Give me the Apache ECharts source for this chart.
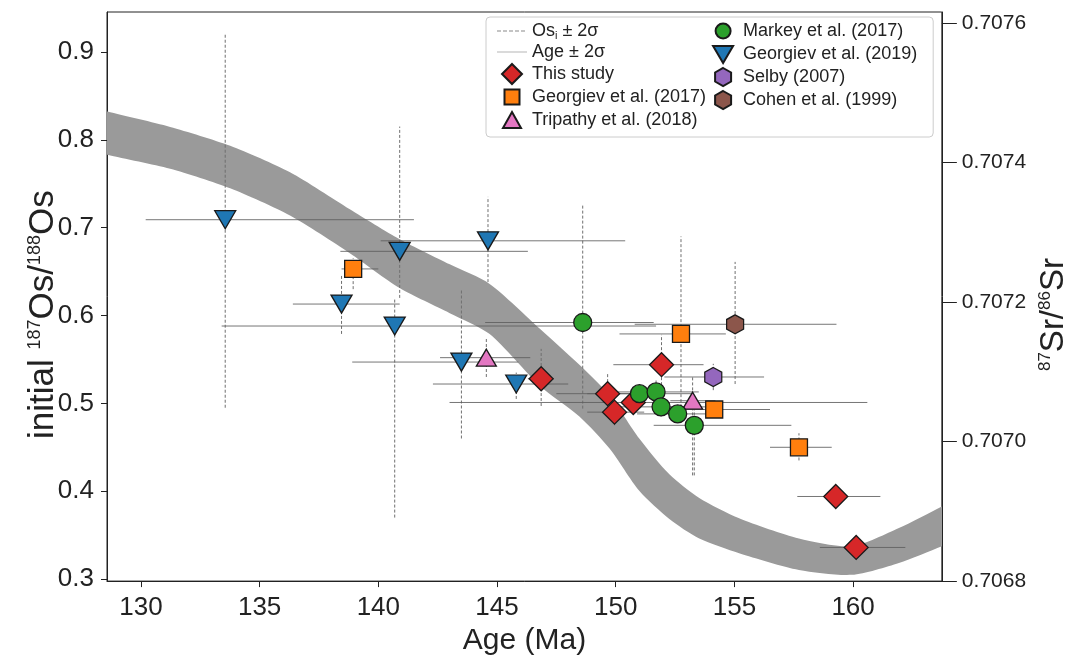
<!DOCTYPE html>
<html>
<head>
<meta charset="utf-8">
<script src="https://cdn.jsdelivr.net/npm/echarts@6/dist/echarts.min.js"></script>
<style>
  html, body { margin: 0; padding: 0; background: #fff; }
  #chart { width: 1078px; height: 661px; }
</style>
</head>
<body>
<div id="chart"></div>
<script>
// Axis ticks
const ageTicks = [130, 135, 140, 145, 150, 155, 160];
const osTicks = [0.3, 0.4, 0.5, 0.6, 0.7, 0.8, 0.9];
const srTicks = [0.7068, 0.7070, 0.7072, 0.7074, 0.7076];

// Seawater 87Sr/86Sr envelope (age in Ma, upper and lower bound)
const bandAge    = [127.8, 128.58, 131.23, 133.76, 136.28, 138.80, 140.90, 143.01, 144.69, 146.83, 148.47, 149.74, 151.00, 152.26, 153.52, 155.20, 157.72, 159.95, 161.93, 163.74, 164.5];
const bandSrHigh = [0.70748, 0.707473, 0.707451, 0.707424, 0.707386, 0.707333, 0.707290, 0.707254, 0.707226, 0.707161, 0.707110, 0.707066, 0.707004, 0.706953, 0.706919, 0.706890, 0.706861, 0.706850, 0.706876, 0.706907, 0.70692];
const bandSrLow  = [0.70742, 0.707411, 0.707391, 0.707363, 0.707324, 0.707270, 0.707220, 0.707184, 0.707154, 0.707079, 0.707036, 0.706990, 0.706929, 0.706889, 0.706861, 0.706840, 0.706816, 0.706809, 0.706826, 0.706850, 0.70686];

// This study
const thisStudyAge = [146.86, 149.66, 149.95, 150.74, 151.93, 159.27, 160.13];
const thisStudyOs = [0.528, 0.511, 0.490, 0.501, 0.544, 0.394, 0.336];
const thisStudyAgeErr = [[146.3, 147.4], [147.5, 152.0], [148.8, 151.2], [143.0, 160.6], [149.9, 153.7], [157.65, 161.15], [158.6, 162.2]];
const thisStudyOsErr = [[0.497, 0.562], [0.490, 0.535], [0.475, 0.505], [0.490, 0.512], [0.515, 0.578], [0.385, 0.403], [0.328, 0.344]];

// Georgiev et al. (2017)
const georgiev17Age = [138.94, 152.75, 154.15, 157.72];
const georgiev17Os = [0.653, 0.579, 0.493, 0.450];
const georgiev17AgeErr = [[138.45, 140.0], [150.16, 154.64], [152.9, 156.5], [156.5, 159.1]];
const georgiev17OsErr = [[0.630, 0.665], [0.490, 0.690], [0.485, 0.500], [0.435, 0.466]];

// Tripathy et al. (2018)
const tripathyAge = [144.55, 153.24];
const tripathyOs = [0.552, 0.503];
const tripathyAgeErr = [[142.6, 146.4], [152.3, 154.2]];
const tripathyOsErr = [[0.530, 0.575], [0.418, 0.530]];

// Markey et al. (2017)
const markeyAge = [148.61, 151.0, 151.7, 151.91, 152.61, 153.31];
const markeyOs = [0.592, 0.511, 0.513, 0.496, 0.488, 0.475];
const markeyAgeErr = [[144.5, 151.6], [148.8, 153.2], [149.9, 153.5], [150.0, 153.8], [150.9, 154.3], [151.6, 157.4]];
const markeyOsErr = [[0.494, 0.726], [0.500, 0.522], [0.500, 0.526], [0.485, 0.507], [0.478, 0.498], [0.418, 0.500]];

// Georgiev et al. (2019)
const georgiev19Age = [133.55, 138.45, 140.69, 140.90, 143.50, 144.62, 145.81];
const georgiev19Os = [0.709, 0.613, 0.588, 0.673, 0.547, 0.685, 0.522];
const georgiev19AgeErr = [[130.2, 141.5], [136.4, 140.9], [133.4, 151.7], [138.4, 146.3], [138.9, 145.9], [140.1, 150.4], [142.3, 148.0]];
const georgiev19OsErr = [[0.495, 0.920], [0.579, 0.645], [0.370, 0.620], [0.620, 0.815], [0.460, 0.630], [0.638, 0.735], [0.505, 0.535]];

// Selby (2007)
const selbyAge = [154.11];
const selbyOs = [0.530];
const selbyAgeErr = [[152.05, 156.25]];
const selbyOsErr = [[0.515, 0.545]];

// Cohen et al. (1999)
const cohenAge = [155.03];
const cohenOs = [0.590];
const cohenAgeErr = [[150.8, 159.3]];
const cohenOsErr = [[0.522, 0.661]];

const FONT = 'Liberation Sans';
const DOWN_TRI = 'path://M0,0L20,0L10,17Z';
const HEXAGON = 'path://M8.66,0L17.32,5L17.32,15L8.66,20L0,15L0,5Z';

// Legend icons share a fixed 30x20 frame (the two zero-length moves pin the frame corners)
const FRAME = 'M0,0L0,0M30,20L30,20';
const ICON = {
  diamond: 'path://' + FRAME + 'M15,0L25,10L15,20L5,10Z',
  square: 'path://' + FRAME + 'M7.5,2.5h15v15h-15z',
  triUp: 'path://' + FRAME + 'M15,2L24,18L6,18Z',
  circle: 'path://' + FRAME + 'M7.5,10a7.5,7.5 0 1,0 15,0a7.5,7.5 0 1,0 -15,0Z',
  triDown: 'path://' + FRAME + 'M5,2L25,2L15,19Z',
  hexagon: 'path://' + FRAME + 'M15,1L23,5.5L23,14.5L15,19L7,14.5L7,5.5Z',
  dashed: 'path://' + FRAME + 'M0,9.5h4v1h-4zM6,9.5h4v1h-4zM12,9.5h4v1h-4zM18,9.5h4v1h-4zM24,9.5h4v1h-4z',
  solid: 'path://' + FRAME + 'M0,9.5h30v1h-30z'
};

const studies = [
  { name: 'This study', age: thisStudyAge, os: thisStudyOs, ageErr: thisStudyAgeErr, osErr: thisStudyOsErr, symbol: 'diamond', size: [24, 24], color: '#d62728', icon: ICON.diamond },
  { name: 'Georgiev et al. (2017)', age: georgiev17Age, os: georgiev17Os, ageErr: georgiev17AgeErr, osErr: georgiev17OsErr, symbol: 'rect', size: [17, 17], color: '#ff7f0e', icon: ICON.square },
  { name: 'Tripathy et al. (2018)', age: tripathyAge, os: tripathyOs, ageErr: tripathyAgeErr, osErr: tripathyOsErr, symbol: 'triangle', size: [20, 17], color: '#e377c2', icon: ICON.triUp },
  { name: 'Markey et al. (2017)', age: markeyAge, os: markeyOs, ageErr: markeyAgeErr, osErr: markeyOsErr, symbol: 'circle', size: [18, 18], color: '#2ca02c', icon: ICON.circle },
  { name: 'Georgiev et al. (2019)', age: georgiev19Age, os: georgiev19Os, ageErr: georgiev19AgeErr, osErr: georgiev19OsErr, symbol: DOWN_TRI, size: [21, 18], color: '#1f77b4', icon: ICON.triDown },
  { name: 'Selby (2007)', age: selbyAge, os: selbyOs, ageErr: selbyAgeErr, osErr: selbyOsErr, symbol: HEXAGON, size: [17, 19], color: '#9467bd', icon: ICON.hexagon },
  { name: 'Cohen et al. (1999)', age: cohenAge, os: cohenOs, ageErr: cohenAgeErr, osErr: cohenOsErr, symbol: HEXAGON, size: [17, 19], color: '#8c564b', icon: ICON.hexagon }
];

const OS_ERR_NAME = 'Os_i ± 2σ';
const AGE_ERR_NAME = 'Age ± 2σ';

// Error-bar rows: [x, lo, hi]
const osBarData = [];
const ageBarData = [];
studies.forEach(s => {
  s.age.forEach((a, i) => {
    osBarData.push([a, s.osErr[i][0], s.osErr[i][1]]);
    ageBarData.push([s.os[i], s.ageErr[i][0], s.ageErr[i][1]]);
  });
});

const series = [];

// Sr envelope drawn as a filled polygon against the right-hand axis
series.push({
  type: 'custom',
  name: 'Sr band',
  xAxisIndex: 0,
  yAxisIndex: 1,
  clip: true,
  silent: true,
  z: 1,
  data: [[bandAge[0], bandSrLow[0]]],
  renderItem: (params, api) => {
    const pts = [];
    for (let i = 0; i < bandAge.length; i++) pts.push(api.coord([bandAge[i], bandSrHigh[i]]));
    for (let i = bandAge.length - 1; i >= 0; i--) pts.push(api.coord([bandAge[i], bandSrLow[i]]));
    return {
      type: 'polygon',
      shape: { points: pts, smooth: 0.25 },
      style: { fill: '#9a9a9a', stroke: null }
    };
  }
});

// Vertical Os_i uncertainty (dashed)
series.push({
  type: 'custom',
  name: OS_ERR_NAME,
  xAxisIndex: 0,
  yAxisIndex: 0,
  z: 2,
  silent: true,
  encode: { x: 0, y: [1, 2] },
  data: osBarData,
  renderItem: (params, api) => {
    const p1 = api.coord([api.value(0), api.value(1)]);
    const p2 = api.coord([api.value(0), api.value(2)]);
    return {
      type: 'line',
      shape: { x1: p1[0], y1: p1[1], x2: p2[0], y2: p2[1] },
      style: { stroke: '#6f6f6f', lineWidth: 1, lineDash: [3, 2] }
    };
  }
});

// Horizontal age uncertainty (solid)
series.push({
  type: 'custom',
  name: AGE_ERR_NAME,
  xAxisIndex: 0,
  yAxisIndex: 0,
  z: 2,
  silent: true,
  encode: { x: [1, 2], y: 0 },
  data: ageBarData,
  renderItem: (params, api) => {
    const p1 = api.coord([api.value(1), api.value(0)]);
    const p2 = api.coord([api.value(2), api.value(0)]);
    return {
      type: 'line',
      shape: { x1: p1[0], y1: p1[1], x2: p2[0], y2: p2[1] },
      style: { stroke: '#5e5e5e', lineWidth: 1, opacity: 0.85 }
    };
  }
});

studies.forEach(s => {
  series.push({
    type: 'scatter',
    name: s.name,
    xAxisIndex: 0,
    yAxisIndex: 0,
    z: 5,
    symbol: s.symbol,
    symbolSize: s.size,
    data: s.age.map((a, i) => [a, s.os[i]]),
    itemStyle: { color: s.color, borderColor: '#1a1a1a', borderWidth: 1.3, opacity: 1 }
  });
});

const legendData = [
  { name: OS_ERR_NAME, icon: ICON.dashed, itemStyle: { color: '#8a8a8a', borderWidth: 0 } },
  { name: AGE_ERR_NAME, icon: ICON.solid, itemStyle: { color: '#b5b5b5', borderWidth: 0 } },
  ...studies.map(s => ({ name: s.name, icon: s.icon }))
];

const chart = echarts.init(document.getElementById('chart'), null, { renderer: 'canvas' });
chart.setOption({
  animation: false,
  backgroundColor: '#ffffff',
  grid: {
    left: 107, right: 135, top: 12, bottom: 78,
    show: true, borderColor: '#222', borderWidth: 1, backgroundColor: 'transparent'
  },
  legend: {
    orient: 'vertical',
    left: 486, top: 17,
    height: 124,
    itemWidth: 30, itemHeight: 20, itemGap: 1,
    padding: [3, 16, 6, 10],
    backgroundColor: 'rgba(255,255,255,0.9)',
    borderColor: '#cccccc', borderWidth: 1, borderRadius: 4,
    selectedMode: false,
    data: legendData,
    formatter: name => name === OS_ERR_NAME ? '{t|Os}{sub|i}{t| ± 2σ}' : '{t|' + name + '}',
    textStyle: {
      fontFamily: FONT, fontSize: 18, lineHeight: 20, color: '#222',
      rich: {
        t: { fontFamily: FONT, fontSize: 18, lineHeight: 20, color: '#222' },
        sub: { fontFamily: FONT, fontSize: 11, lineHeight: 12, color: '#222', verticalAlign: 'bottom' }
      }
    }
  },
  xAxis: {
    type: 'value',
    min: 128.57, max: 163.74,
    name: 'Age (Ma)',
    nameLocation: 'middle',
    nameGap: 42,
    nameTextStyle: { fontFamily: FONT, fontSize: 30, color: '#222' },
    axisLine: { show: true, lineStyle: { color: '#222', width: 1 } },
    axisTick: { show: true, inside: false, length: 6, lineStyle: { color: '#222' }, customValues: ageTicks },
    axisLabel: { fontFamily: FONT, fontSize: 26, color: '#222', margin: 14, customValues: ageTicks },
    splitLine: { show: false }
  },
  yAxis: [
    {
      type: 'value',
      position: 'left',
      min: 0.2977, max: 0.9454,
      name: '{t|initial }{s|187}{t|Os/}{s|188}{t|Os}',
      nameLocation: 'middle',
      nameRotate: 90,
      nameGap: 46,
      nameMoveOverlap: false,
      nameTextStyle: {
        padding: [0, 36, 0, 0],
        rich: {
          t: { fontFamily: FONT, fontSize: 35, color: '#222' },
          s: { fontFamily: FONT, fontSize: 18, color: '#222', verticalAlign: 'top', padding: [0, 0, 12, 0] }
        }
      },
      axisLine: { show: true, lineStyle: { color: '#222', width: 1 } },
      axisTick: { show: true, inside: false, length: 6, lineStyle: { color: '#222' }, customValues: osTicks },
      axisLabel: { fontFamily: FONT, fontSize: 26, color: '#222', margin: 13, customValues: osTicks, formatter: v => v.toFixed(1) },
      splitLine: { show: false }
    },
    {
      type: 'value',
      position: 'right',
      min: 0.7068, max: 0.7076157,
      name: '{s|87}{t|Sr/}{s|86}{t|Sr}',
      nameLocation: 'middle',
      nameRotate: 90,
      nameGap: 92,
      nameTextStyle: {
        padding: [0, 36, 0, 0],
        rich: {
          t: { fontFamily: FONT, fontSize: 33, color: '#222' },
          s: { fontFamily: FONT, fontSize: 17, color: '#222', verticalAlign: 'top', padding: [0, 0, 11, 0] }
        }
      },
      axisLine: { show: true, lineStyle: { color: '#222', width: 1 } },
      axisTick: { show: true, inside: false, length: 15, lineStyle: { color: '#222' }, customValues: srTicks },
      axisLabel: { fontFamily: FONT, fontSize: 21, color: '#222', margin: 20, customValues: srTicks, formatter: v => v.toFixed(4) },
      splitLine: { show: false }
    }
  ],
  series: series
});
</script>
</body>
</html>
